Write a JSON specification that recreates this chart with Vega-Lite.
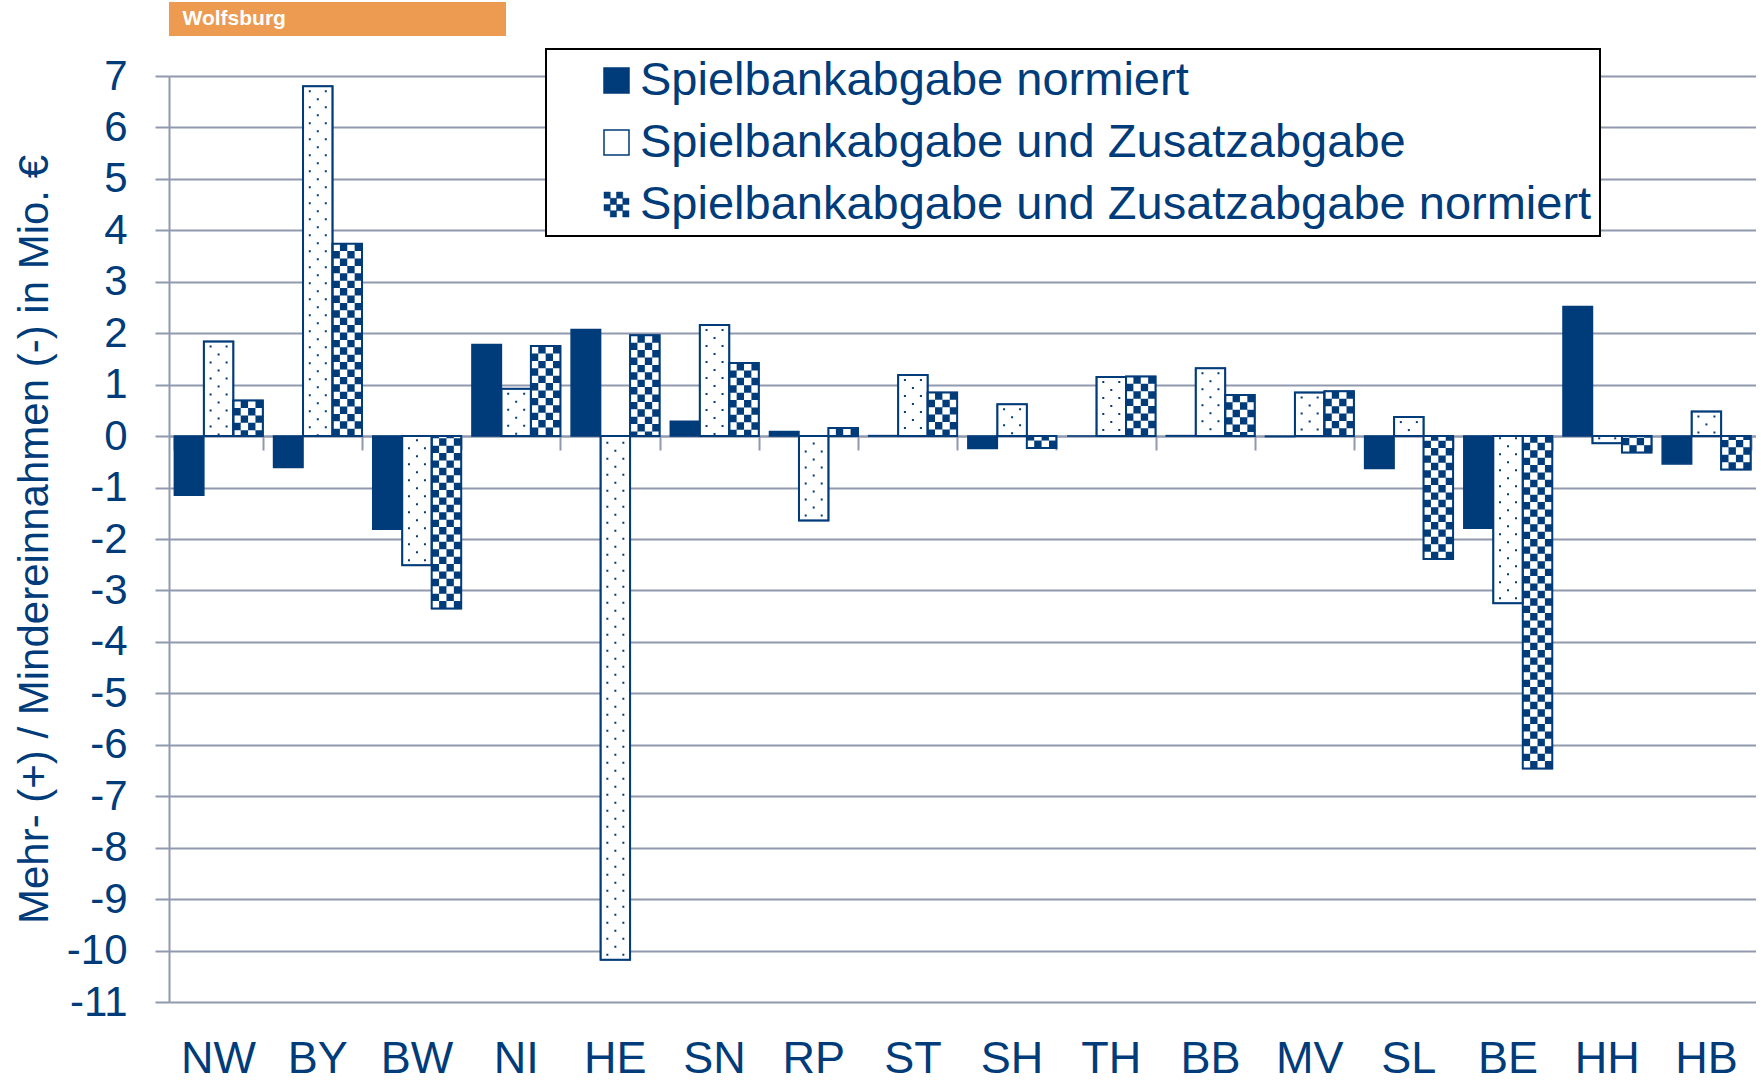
{
  "$schema": "https://vega.github.io/schema/vega-lite/v6.json",
  "padding": {"left": 13, "top": 2, "right": 0, "bottom": 0},
  "spacing": 12,
  "columns": 1,
  "align": "none",
  "resolve": {"legend": {"fill": "independent"}},
  "config": {
    "font": "Liberation Sans",
    "view": {"stroke": null}
  },
  "concat": [
    {
      "width": 337,
      "height": 34,
      "view": {"fill": "#EC9B51", "stroke": null},
      "data": {"values": [{"label": "Wolfsburg"}]},
      "mark": {"type": "text", "align": "left", "baseline": "middle", "dx": -155, "font": "Liberation Sans", "fontWeight": "bold", "fontSize": 21, "color": "#FFFFFF"},
      "encoding": {"text": {"field": "label", "type": "nominal"}}
    },
    {
      "width": 1587,
      "height": 926,
      "data": {"values": [
        {"land": "NW", "series": "Spielbankabgabe normiert", "value": -1.15},
        {"land": "NW", "series": "Spielbankabgabe und Zusatzabgabe", "value": 1.84},
        {"land": "NW", "series": "Spielbankabgabe und Zusatzabgabe normiert", "value": 0.69},
        {"land": "BY", "series": "Spielbankabgabe normiert", "value": -0.61},
        {"land": "BY", "series": "Spielbankabgabe und Zusatzabgabe", "value": 6.8},
        {"land": "BY", "series": "Spielbankabgabe und Zusatzabgabe normiert", "value": 3.74},
        {"land": "BW", "series": "Spielbankabgabe normiert", "value": -1.81},
        {"land": "BW", "series": "Spielbankabgabe und Zusatzabgabe", "value": -2.51},
        {"land": "BW", "series": "Spielbankabgabe und Zusatzabgabe normiert", "value": -3.35},
        {"land": "NI", "series": "Spielbankabgabe normiert", "value": 1.78},
        {"land": "NI", "series": "Spielbankabgabe und Zusatzabgabe", "value": 0.92},
        {"land": "NI", "series": "Spielbankabgabe und Zusatzabgabe normiert", "value": 1.75},
        {"land": "HE", "series": "Spielbankabgabe normiert", "value": 2.07},
        {"land": "HE", "series": "Spielbankabgabe und Zusatzabgabe", "value": -10.18},
        {"land": "HE", "series": "Spielbankabgabe und Zusatzabgabe normiert", "value": 1.96},
        {"land": "SN", "series": "Spielbankabgabe normiert", "value": 0.29},
        {"land": "SN", "series": "Spielbankabgabe und Zusatzabgabe", "value": 2.16},
        {"land": "SN", "series": "Spielbankabgabe und Zusatzabgabe normiert", "value": 1.42},
        {"land": "RP", "series": "Spielbankabgabe normiert", "value": 0.09},
        {"land": "RP", "series": "Spielbankabgabe und Zusatzabgabe", "value": -1.64},
        {"land": "RP", "series": "Spielbankabgabe und Zusatzabgabe normiert", "value": 0.16},
        {"land": "ST", "series": "Spielbankabgabe normiert", "value": 0.01},
        {"land": "ST", "series": "Spielbankabgabe und Zusatzabgabe", "value": 1.19},
        {"land": "ST", "series": "Spielbankabgabe und Zusatzabgabe normiert", "value": 0.85},
        {"land": "SH", "series": "Spielbankabgabe normiert", "value": -0.24},
        {"land": "SH", "series": "Spielbankabgabe und Zusatzabgabe", "value": 0.62},
        {"land": "SH", "series": "Spielbankabgabe und Zusatzabgabe normiert", "value": -0.23},
        {"land": "TH", "series": "Spielbankabgabe normiert", "value": 0.0},
        {"land": "TH", "series": "Spielbankabgabe und Zusatzabgabe", "value": 1.15},
        {"land": "TH", "series": "Spielbankabgabe und Zusatzabgabe normiert", "value": 1.16},
        {"land": "BB", "series": "Spielbankabgabe normiert", "value": 0.01},
        {"land": "BB", "series": "Spielbankabgabe und Zusatzabgabe", "value": 1.32},
        {"land": "BB", "series": "Spielbankabgabe und Zusatzabgabe normiert", "value": 0.8},
        {"land": "MV", "series": "Spielbankabgabe normiert", "value": -0.01},
        {"land": "MV", "series": "Spielbankabgabe und Zusatzabgabe", "value": 0.85},
        {"land": "MV", "series": "Spielbankabgabe und Zusatzabgabe normiert", "value": 0.87},
        {"land": "SL", "series": "Spielbankabgabe normiert", "value": -0.63},
        {"land": "SL", "series": "Spielbankabgabe und Zusatzabgabe", "value": 0.37},
        {"land": "SL", "series": "Spielbankabgabe und Zusatzabgabe normiert", "value": -2.39},
        {"land": "BE", "series": "Spielbankabgabe normiert", "value": -1.79},
        {"land": "BE", "series": "Spielbankabgabe und Zusatzabgabe", "value": -3.25},
        {"land": "BE", "series": "Spielbankabgabe und Zusatzabgabe normiert", "value": -6.46},
        {"land": "HH", "series": "Spielbankabgabe normiert", "value": 2.52},
        {"land": "HH", "series": "Spielbankabgabe und Zusatzabgabe", "value": -0.14},
        {"land": "HH", "series": "Spielbankabgabe und Zusatzabgabe normiert", "value": -0.32},
        {"land": "HB", "series": "Spielbankabgabe normiert", "value": -0.54},
        {"land": "HB", "series": "Spielbankabgabe und Zusatzabgabe", "value": 0.48},
        {"land": "HB", "series": "Spielbankabgabe und Zusatzabgabe normiert", "value": -0.65}
      ]},
      "resolve": {"axis": {"x": "independent"}},
      "layer": [
        {
          "mark": {"type": "bar", "stroke": "#003B7A", "strokeWidth": 1.5},
          "encoding": {
            "x": {"field": "land", "type": "nominal", "sort": ["NW","BY","BW","NI","HE","SN","RP","ST","SH","TH","BB","MV","SL","BE","HH","HB"],
              "scale": {"paddingInner": 0.108, "paddingOuter": 0.054},
              "axis": {"orient": "bottom", "title": null, "labelAngle": 0, "labelFont": "Liberation Sans", "labelFontSize": 45, "labelColor": "#003B7A", "labelPadding": 34, "ticks": false, "domain": false, "grid": false}},
            "xOffset": {"field": "series", "type": "nominal", "sort": ["Spielbankabgabe normiert", "Spielbankabgabe und Zusatzabgabe", "Spielbankabgabe und Zusatzabgabe normiert"], "scale": {"paddingInner": 0, "paddingOuter": 0}},
            "y": {"field": "value", "type": "quantitative",
              "scale": {"domain": [-11, 7], "nice": false, "zero": false},
              "axis": {"title": "Mehr- (+) / Mindereinnahmen (-) in Mio. €", "titleFont": "Liberation Sans", "titleFontSize": 42, "titleFontWeight": "normal", "titleColor": "#003B7A", "titlePadding": 10,
                "values": [-11,-10,-9,-8,-7,-6,-5,-4,-3,-2,-1,0,1,2,3,4,5,6,7],
                "labelExpr": "'' + datum.value", "labelFont": "Liberation Sans", "labelFontSize": 42, "labelColor": "#003B7A", "labelPadding": 28, "labelFlush": false, "labelOverlap": false,
                "tickSize": 14, "tickColor": "#9199AF", "tickWidth": 2, "domainColor": "#9199AF", "domainWidth": 2, "gridColor": "#9199AF", "gridWidth": 2}},
            "fill": {"field": "series", "type": "nominal",
              "scale": {"domain": ["Spielbankabgabe normiert", "Spielbankabgabe und Zusatzabgabe", "Spielbankabgabe und Zusatzabgabe normiert"], "range": ["#003B7A", "#FFFFFF", "#003B7A"]},
              "legend": {"orient": "none", "legendX": 377, "legendY": -27, "title": null, "direction": "vertical",
                "symbolType": "square", "symbolSize": 625, "symbolStrokeColor": "#003B7A", "symbolStrokeWidth": 1.5, "symbolOffset": 39,
                "labelFont": "Liberation Sans", "labelFontSize": 47, "labelColor": "#003B7A", "labelLimit": 2000, "labelOffset": 0,
                "rowPadding": 14, "padding": 8, "strokeColor": "#000000", "fillColor": "#FFFFFF",
                "encode": {
                  "legend": {"update": {"strokeWidth": {"value": 2}}},
                  "symbols": {"update": {
                    "shape": {"signal": "datum.value === 'Spielbankabgabe und Zusatzabgabe normiert' ? 'M-1,-1h0.5v0.5h-0.5z M0,-1h0.5v0.5h-0.5z M-0.5,-0.5h0.5v0.5h-0.5z M0.5,-0.5h0.5v0.5h-0.5z M-1,0h0.5v0.5h-0.5z M0,0h0.5v0.5h-0.5z M-0.5,0.5h0.5v0.5h-0.5z M0.5,0.5h0.5v0.5h-0.5z' : 'square'"},
                    "strokeWidth": {"signal": "datum.value === 'Spielbankabgabe und Zusatzabgabe normiert' ? 0.5 : 1.5"}
                  }}
                }}
            }
          }
        },
        {
          "transform": [{"filter": "datum.series === 'Spielbankabgabe und Zusatzabgabe normiert'"}],
          "mark": {"type": "rule", "color": "#FFFFFF", "strokeWidth": 7.4, "strokeDash": [7.4, 7.4], "strokeDashOffset": 0, "xOffset": 18.43},
          "encoding": {
            "x": {"field": "land", "type": "nominal", "sort": ["NW","BY","BW","NI","HE","SN","RP","ST","SH","TH","BB","MV","SL","BE","HH","HB"],
              "axis": {"orient": "bottom", "offset": -566, "labels": false, "title": null, "ticks": true, "tickSize": 14, "tickBand": "extent", "tickColor": "#9199AF", "tickWidth": 2, "domain": true, "domainColor": "#9199AF", "domainWidth": 2, "grid": false}},
            "y": {"field": "value", "type": "quantitative"},
            "y2": {"datum": 0}
          }
        },
        {
          "transform": [{"filter": "datum.series === 'Spielbankabgabe und Zusatzabgabe normiert'"}],
          "mark": {"type": "rule", "color": "#FFFFFF", "strokeWidth": 7.4, "strokeDash": [7.4, 7.4], "strokeDashOffset": 7.4, "xOffset": 25.8},
          "encoding": {
            "x": {"field": "land", "type": "nominal", "sort": ["NW","BY","BW","NI","HE","SN","RP","ST","SH","TH","BB","MV","SL","BE","HH","HB"], "axis": null},
            "y": {"field": "value", "type": "quantitative"},
            "y2": {"datum": 0}
          }
        },
        {
          "transform": [{"filter": "datum.series === 'Spielbankabgabe und Zusatzabgabe normiert'"}],
          "mark": {"type": "rule", "color": "#FFFFFF", "strokeWidth": 7.4, "strokeDash": [7.4, 7.4], "strokeDashOffset": 0, "xOffset": 33.18},
          "encoding": {
            "x": {"field": "land", "type": "nominal", "sort": ["NW","BY","BW","NI","HE","SN","RP","ST","SH","TH","BB","MV","SL","BE","HH","HB"], "axis": null},
            "y": {"field": "value", "type": "quantitative"},
            "y2": {"datum": 0}
          }
        },
        {
          "transform": [{"filter": "datum.series === 'Spielbankabgabe und Zusatzabgabe normiert'"}],
          "mark": {"type": "rule", "color": "#FFFFFF", "strokeWidth": 7.4, "strokeDash": [7.4, 7.4], "strokeDashOffset": 7.4, "xOffset": 40.55},
          "encoding": {
            "x": {"field": "land", "type": "nominal", "sort": ["NW","BY","BW","NI","HE","SN","RP","ST","SH","TH","BB","MV","SL","BE","HH","HB"], "axis": null},
            "y": {"field": "value", "type": "quantitative"},
            "y2": {"datum": 0}
          }
        },
        {
          "transform": [{"filter": "datum.series === 'Spielbankabgabe und Zusatzabgabe'"}],
          "mark": {"type": "rule", "color": "#003B7A", "strokeWidth": 2, "strokeDash": [2, 14], "strokeDashOffset": 12, "xOffset": -8},
          "encoding": {
            "x": {"field": "land", "type": "nominal", "sort": ["NW","BY","BW","NI","HE","SN","RP","ST","SH","TH","BB","MV","SL","BE","HH","HB"], "axis": null},
            "y": {"field": "value", "type": "quantitative"},
            "y2": {"datum": 0}
          }
        },
        {
          "transform": [{"filter": "datum.series === 'Spielbankabgabe und Zusatzabgabe'"}],
          "mark": {"type": "rule", "color": "#003B7A", "strokeWidth": 2, "strokeDash": [2, 14], "strokeDashOffset": 4, "xOffset": 0},
          "encoding": {
            "x": {"field": "land", "type": "nominal", "sort": ["NW","BY","BW","NI","HE","SN","RP","ST","SH","TH","BB","MV","SL","BE","HH","HB"], "axis": null},
            "y": {"field": "value", "type": "quantitative"},
            "y2": {"datum": 0}
          }
        },
        {
          "transform": [{"filter": "datum.series === 'Spielbankabgabe und Zusatzabgabe'"}],
          "mark": {"type": "rule", "color": "#003B7A", "strokeWidth": 2, "strokeDash": [2, 14], "strokeDashOffset": 12, "xOffset": 8},
          "encoding": {
            "x": {"field": "land", "type": "nominal", "sort": ["NW","BY","BW","NI","HE","SN","RP","ST","SH","TH","BB","MV","SL","BE","HH","HB"], "axis": null},
            "y": {"field": "value", "type": "quantitative"},
            "y2": {"datum": 0}
          }
        },
        {
          "transform": [{"filter": "datum.series !== 'Spielbankabgabe normiert'"}],
          "mark": {"type": "bar", "fill": "transparent", "stroke": "#003B7A", "strokeWidth": 2},
          "encoding": {
            "x": {"field": "land", "type": "nominal", "sort": ["NW","BY","BW","NI","HE","SN","RP","ST","SH","TH","BB","MV","SL","BE","HH","HB"], "axis": null},
            "xOffset": {"field": "series", "type": "nominal", "sort": ["Spielbankabgabe normiert", "Spielbankabgabe und Zusatzabgabe", "Spielbankabgabe und Zusatzabgabe normiert"]},
            "y": {"field": "value", "type": "quantitative"}
          }
        }
      ]
    }
  ]
}
